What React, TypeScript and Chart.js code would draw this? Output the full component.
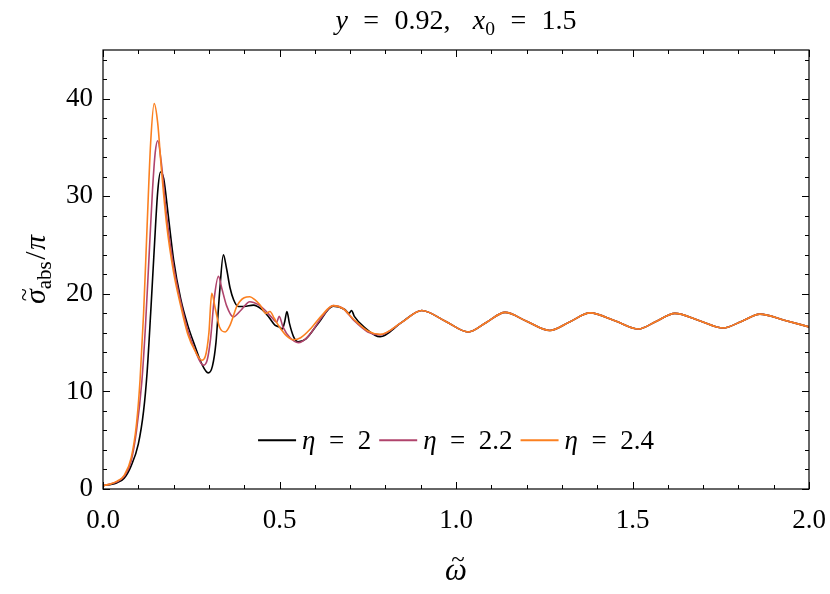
import React, { useEffect, useRef } from 'react';
import { Chart, registerables } from 'chart.js';
Chart.register(...registerables);

// ---------- data ----------
const eta2X = [0, 0.02, 0.04, 0.06, 0.08, 0.1, 0.115, 0.125, 0.135, 0.145, 0.155, 0.163, 0.172, 0.185, 0.2, 0.22, 0.24, 0.26, 0.28, 0.298, 0.31, 0.32, 0.33, 0.341, 0.35, 0.36, 0.37, 0.383, 0.4, 0.426, 0.45, 0.47, 0.487, 0.5, 0.508, 0.515, 0.521, 0.528, 0.54, 0.553, 0.575, 0.61, 0.652, 0.685, 0.697, 0.704, 0.712, 0.74, 0.785];
const eta2Y = [0.35, 0.45, 0.65, 1.1, 2.4, 4.6, 8.0, 12.0, 18.0, 24.5, 30.5, 32.5, 31.8, 28.0, 23.5, 19.5, 16.8, 14.7, 12.8, 11.9, 12.6, 15.0, 20.0, 24.0, 22.6, 20.6, 19.4, 18.7, 18.7, 18.85, 18.4, 17.6, 16.8, 16.6, 16.4, 17.2, 18.2, 17.0, 15.6, 15.1, 15.4, 17.0, 18.75, 18.4, 18.0, 18.3, 17.7, 16.6, 15.6];

const eta22X = [0, 0.02, 0.04, 0.06, 0.08, 0.095, 0.11, 0.12, 0.13, 0.14, 0.148, 0.155, 0.165, 0.18, 0.2, 0.22, 0.24, 0.26, 0.284, 0.295, 0.305, 0.315, 0.327, 0.337, 0.35, 0.369, 0.39, 0.416, 0.44, 0.46, 0.48, 0.492, 0.499, 0.51, 0.53, 0.553, 0.58, 0.62, 0.652, 0.68, 0.71, 0.75, 0.785];
const eta22Y = [0.35, 0.5, 0.75, 1.3, 2.9, 6.0, 11.0, 16.5, 23.5, 30.5, 34.5, 35.7, 33.5, 28.0, 22.8, 19.2, 16.3, 14.3, 12.7, 13.2, 15.5, 19.5, 21.8, 20.5, 18.8, 17.65, 18.3, 19.2, 18.9, 18.3, 17.5, 17.1, 17.7, 16.6, 15.5, 15.0, 15.6, 17.6, 18.8, 18.5, 17.3, 16.1, 15.8];

const eta24X = [0, 0.02, 0.04, 0.06, 0.08, 0.095, 0.105, 0.115, 0.125, 0.135, 0.145, 0.155, 0.165, 0.18, 0.2, 0.22, 0.24, 0.26, 0.28, 0.29, 0.3, 0.308, 0.318, 0.33, 0.346, 0.36, 0.38, 0.4, 0.416, 0.43, 0.445, 0.462, 0.473, 0.485, 0.5, 0.52, 0.539, 0.56, 0.59, 0.62, 0.652, 0.68, 0.71, 0.75, 0.785];
const eta24Y = [0.35, 0.5, 0.8, 1.4, 3.2, 6.7, 11.2, 18.0, 27.0, 35.5, 39.5, 37.5, 33.0, 27.2, 22.2, 18.8, 15.9, 14.2, 13.2, 13.6, 16.0, 20.05, 18.5, 16.6, 16.1, 16.8, 18.8, 19.6, 19.7, 19.4, 18.85, 18.0, 18.2, 17.5, 16.6, 15.7, 15.3, 15.5, 16.5, 17.8, 18.8, 18.5, 17.4, 16.2, 15.85];

// common tail (all three curves coincide)
const tailX = [0.845, 0.903, 0.97, 1.035, 1.087, 1.139, 1.2, 1.266, 1.323, 1.38, 1.45, 1.517, 1.568, 1.62, 1.69, 1.757, 1.81, 1.861, 1.93, 2.0];
const tailY = [17.05, 18.3, 17.2, 16.1, 17.1, 18.1, 17.2, 16.25, 17.15, 18.05, 17.25, 16.4, 17.2, 18.0, 17.25, 16.5, 17.2, 17.93, 17.3, 16.62];

const etaLabels = ['2', '2.2', '2.4'];
const seriesColors = ['#000000', '#b0446c', '#fb8020'];

const xMajorTicks = [0, 0.5, 1.0, 1.5, 2.0];
const yMajorTicks = [0, 10, 20, 30, 40];
const xMinorStep = 0.1;
const yMinorStep = 2;
const X_MIN = 0, X_MAX = 2, Y_MIN = 0, Y_MAX = 45;

// ---------- text helpers ----------
const FONT = "'Liberation Serif', 'DejaVu Serif', serif";
type Part = { t?: string; it?: boolean; sub?: boolean; gap?: number; tilde?: boolean };

function partFont(p: Part, size: number) {
  const s = p.sub ? size * 0.7 : size;
  return `${p.it ? 'italic ' : ''}${s}px ${FONT}`;
}
function measureRich(ctx: CanvasRenderingContext2D, parts: Part[], size: number) {
  let w = 0;
  for (const p of parts) {
    if (p.gap) { w += p.gap * size; continue; }
    ctx.font = partFont(p, size);
    w += ctx.measureText(p.t || '').width;
  }
  return w;
}
function drawRich(ctx: CanvasRenderingContext2D, parts: Part[], x: number, y: number, size: number) {
  let cx = x;
  ctx.textAlign = 'left';
  ctx.textBaseline = 'alphabetic';
  for (const p of parts) {
    if (p.gap) { cx += p.gap * size; continue; }
    ctx.font = partFont(p, size);
    const w = ctx.measureText(p.t || '').width;
    const dy = p.sub ? size * 0.2 : 0;
    ctx.fillText(p.t || '', cx, y + dy);
    if (p.tilde) {
      ctx.font = `${size * 0.8}px ${FONT}`;
      const tw = ctx.measureText('~').width;
      ctx.fillText('~', cx + w / 2 - tw / 2 + size * 0.06, y - size * 0.42);
    }
    cx += w;
  }
  return cx;
}

const titleParts: Part[] = [
  { t: 'y', it: true }, { gap: 0.55 }, { t: '=' }, { gap: 0.55 }, { t: '0.92,' }, { gap: 0.8 },
  { t: 'x', it: true }, { t: '0', sub: true }, { gap: 0.55 }, { t: '=' }, { gap: 0.55 }, { t: '1.5' },
];
const yLabelParts: Part[] = [
  { t: 'σ', it: true, tilde: true }, { t: 'abs', sub: true }, { gap: 0.05 }, { t: '/' }, { gap: 0.05 }, { t: 'π', it: true },
];
const xLabelParts: Part[] = [{ t: 'ω', it: true, tilde: true }];

const decoPlugin = {
  id: 'deco',
  afterDraw(chart: any) {
    const ctx: CanvasRenderingContext2D = chart.ctx;
    const { left, right, top, bottom } = chart.chartArea;
    const xs = chart.scales.x, ys = chart.scales.y;
    ctx.save();
    ctx.strokeStyle = '#000';
    ctx.fillStyle = '#000';
    // frame
    ctx.lineWidth = 1.2;
    ctx.strokeRect(left, top, right - left, bottom - top);
    // inward ticks on all four sides
    ctx.lineWidth = 1;
    ctx.beginPath();
    const major = 7, minor = 4;
    for (let i = 0; i <= Math.round((X_MAX - X_MIN) / xMinorStep); i++) {
      const v = X_MIN + i * xMinorStep;
      const isMajor = xMajorTicks.some((m) => Math.abs(m - v) < 1e-6);
      const len = isMajor ? major : minor;
      const px = Math.round(xs.getPixelForValue(v)) + 0.5;
      ctx.moveTo(px, bottom); ctx.lineTo(px, bottom - len);
      ctx.moveTo(px, top); ctx.lineTo(px, top + len);
    }
    for (let i = 0; i <= Math.floor((Y_MAX - Y_MIN) / yMinorStep); i++) {
      const v = Y_MIN + i * yMinorStep;
      const isMajor = yMajorTicks.some((m) => Math.abs(m - v) < 1e-6);
      const len = isMajor ? major : minor;
      const py = Math.round(ys.getPixelForValue(v)) + 0.5;
      ctx.moveTo(left, py); ctx.lineTo(left + len, py);
      ctx.moveTo(right, py); ctx.lineTo(right - len, py);
    }
    ctx.stroke();

    const cxm = (left + right) / 2;
    // title
    const tSize = 28;
    const tw = measureRich(ctx, titleParts, tSize);
    drawRich(ctx, titleParts, cxm - tw / 2, 29, tSize);
    // x label
    const xSize = 31;
    const xw = measureRich(ctx, xLabelParts, xSize);
    drawRich(ctx, xLabelParts, cxm - xw / 2, 580, xSize);
    // y label
    const ySize = 30;
    const yw = measureRich(ctx, yLabelParts, ySize);
    ctx.save();
    ctx.translate(45, (top + bottom) / 2);
    ctx.rotate(-Math.PI / 2);
    drawRich(ctx, yLabelParts, -yw / 2, 0, ySize);
    ctx.restore();

    // legend (inside, lower centre)
    const lSize = 27;
    const handle = 38, gapAfterHandle = 6, gapBetween = 8;
    const items = etaLabels.map((l) => [{ t: 'η', it: true }, { gap: 0.5 }, { t: '=' }, { gap: 0.5 }, { t: l }] as Part[]);
    const widths = items.map((p) => measureRich(ctx, p, lSize));
    const total = widths.reduce((a, b) => a + b, 0) + items.length * (handle + gapAfterHandle) + (items.length - 1) * gapBetween;
    let lx = cxm - total / 2;
    const ly = ys.getPixelForValue(5);
    items.forEach((p, i) => {
      ctx.strokeStyle = seriesColors[i];
      ctx.lineWidth = 2;
      ctx.beginPath();
      ctx.moveTo(lx, ly); ctx.lineTo(lx + handle, ly);
      ctx.stroke();
      lx += handle + gapAfterHandle;
      ctx.fillStyle = '#000';
      drawRich(ctx, p, lx, ly + 9, lSize);
      lx += widths[i] + gapBetween;
    });
    ctx.restore();
  },
};

const toPts = (xs: number[], ys: number[]) => xs.map((x, i) => ({ x, y: ys[i] }));

export default function App() {
  const ref = useRef<HTMLCanvasElement>(null);
  useEffect(() => {
    if (!ref.current) return;
    const series = [
      [eta2X, eta2Y],
      [eta22X, eta22Y],
      [eta24X, eta24Y],
    ];
    const datasets = series.map(([xs, ys], i) => ({
      label: `η = ${etaLabels[i]}`,
      data: toPts([...xs, ...tailX], [...ys, ...tailY]),
      borderColor: seriesColors[i],
      borderWidth: 1.6,
      pointRadius: 0,
      fill: false,
      cubicInterpolationMode: 'monotone' as const,
      order: 3 - i,
    }));
    const tickFont = { family: FONT, size: 27 };
    const chart = new Chart(ref.current, {
      type: 'line',
      data: { datasets },
      options: {
        animation: false,
        responsive: false,
        maintainAspectRatio: false,
        events: [],
        layout: { padding: { top: 50, right: 21, left: 0, bottom: 0 } },
        plugins: { legend: { display: false }, tooltip: { enabled: false }, title: { display: false } },
        scales: {
          x: {
            type: 'linear', min: X_MIN, max: X_MAX,
            afterBuildTicks: (s: any) => { s.ticks = xMajorTicks.map((v) => ({ value: v })); },
            afterFit: (s: any) => { s.height = 105; s.paddingLeft = 0; s.paddingRight = 0; },
            grid: { display: false, drawTicks: false },
            border: { display: false },
            ticks: { padding: 16, color: '#000', font: tickFont, maxRotation: 0, autoSkip: false, callback: (v: any) => Number(v).toFixed(1) },
          },
          y: {
            type: 'linear', min: Y_MIN, max: Y_MAX,
            afterBuildTicks: (s: any) => { s.ticks = yMajorTicks.map((v) => ({ value: v })); },
            afterFit: (s: any) => { s.width = 103; s.paddingTop = 0; s.paddingBottom = 0; },
            grid: { display: false, drawTicks: false },
            border: { display: false },
            ticks: { padding: 10, color: '#000', font: tickFont, autoSkip: false, callback: (v: any) => String(v) },
          },
        },
      },
      plugins: [decoPlugin],
    } as any);
    return () => chart.destroy();
  }, []);
  return (
    <div style={{ position: 'absolute', left: 0, top: 0, width: 830, height: 594, background: '#fff' }}>
      <canvas ref={ref} width={830} height={594} style={{ width: 830, height: 594, display: 'block' }} />
    </div>
  );
}
